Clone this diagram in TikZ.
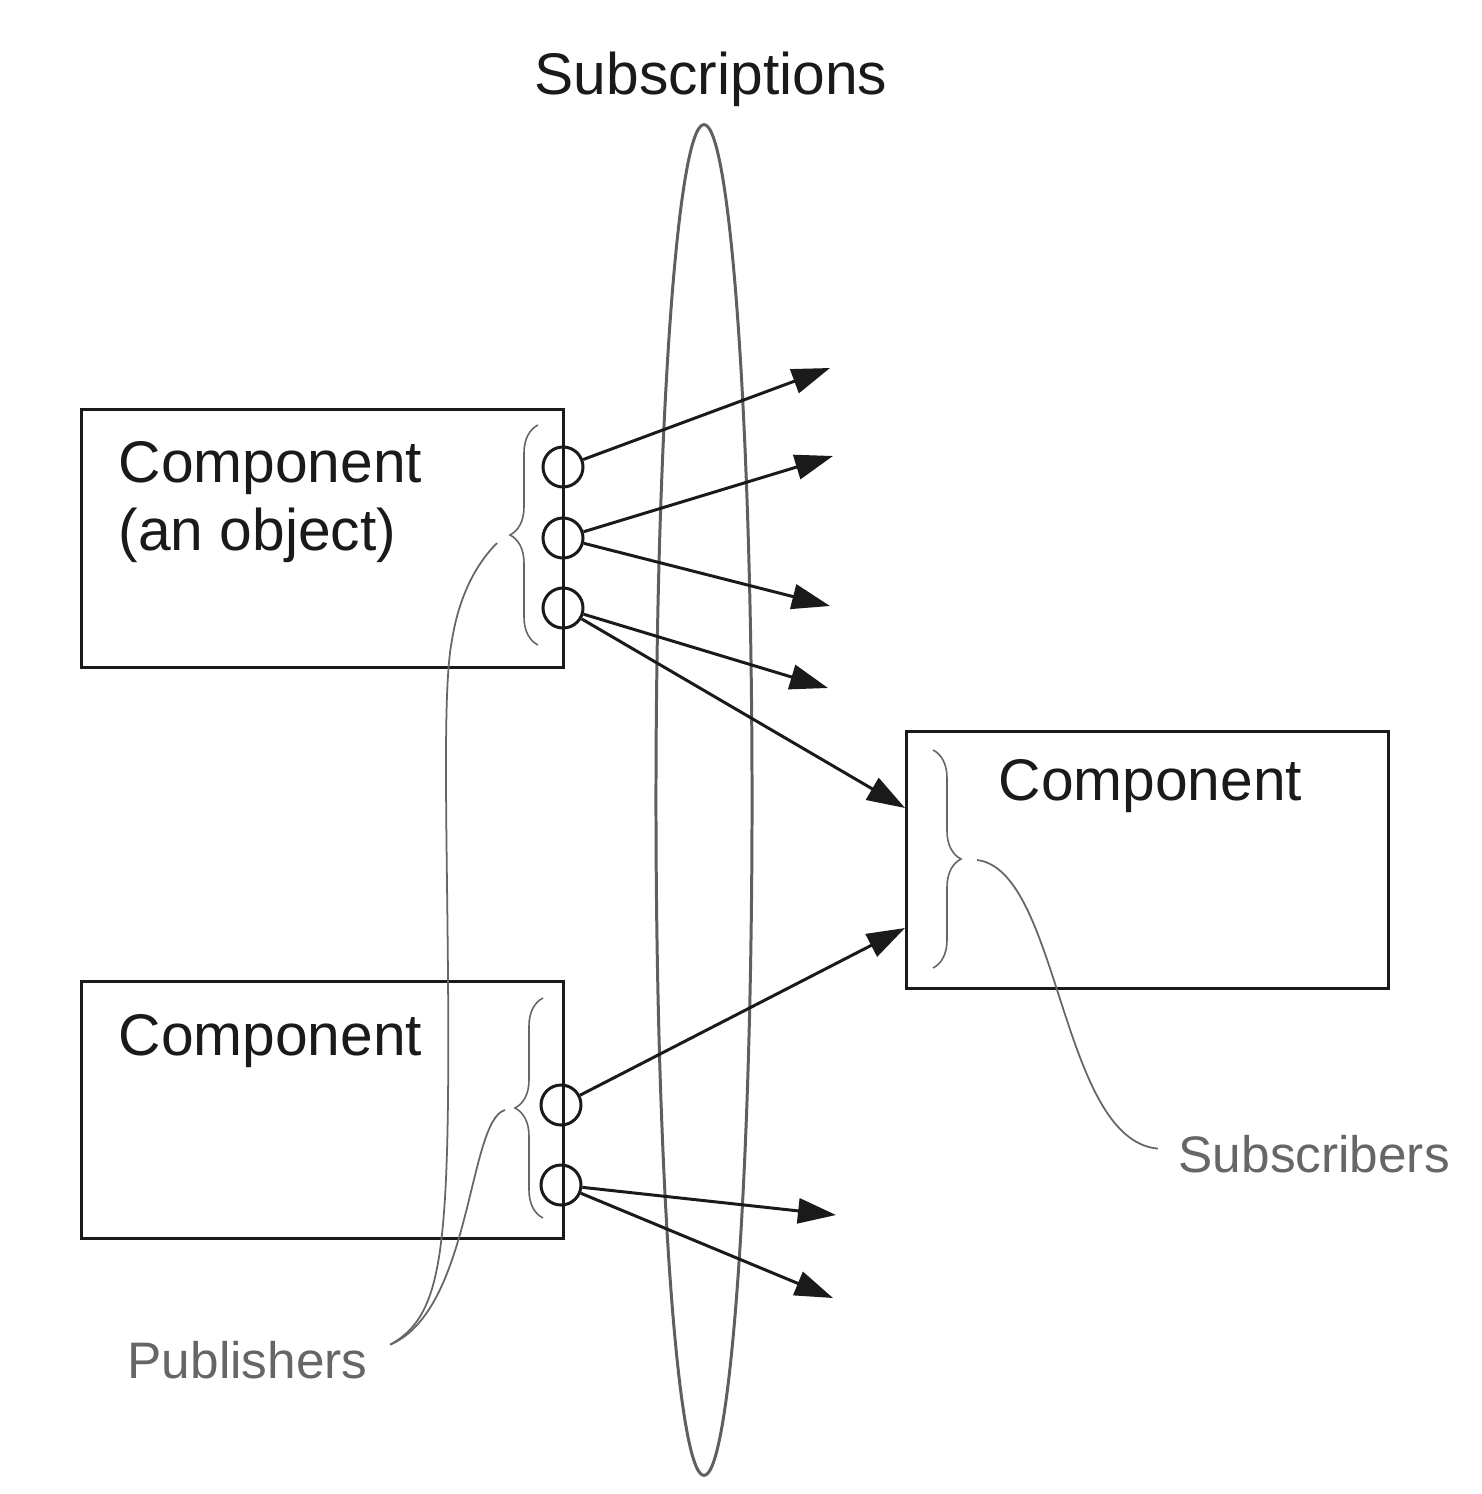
\documentclass[tikz,border=0pt]{standalone}
\usepackage{fontspec}
\setmainfont{Liberation Sans}
\usetikzlibrary{arrows.meta, decorations.pathreplacing}

\definecolor{ink}{RGB}{26,26,26}
\definecolor{note}{RGB}{102,102,102}
\definecolor{ringgray}{RGB}{95,95,95}

\tikzset{
	comp/.style={draw=ink, line width=0.85pt, minimum width=4.81cm, minimum height=2.57cm, inner sep=0},
	port/.style={draw=ink, line width=0.85pt, circle, minimum size=0.4cm, inner sep=0},
	arr/.style={ink, line width=0.85pt, -{Triangle[length=0.38cm, width=0.25cm]}},
	bigtext/.style={font=\fontsize{16.7}{20}\selectfont, text=ink, inner sep=0},
	notetext/.style={font=\fontsize{14.6}{18}\selectfont, text=note, inner sep=0},
	curly/.style={note, line width=0.45pt, decorate, decoration={brace, amplitude=0.28cm}},
	lead/.style={note, line width=0.5pt}
}

\begin{document}
\begin{tikzpicture}[x=0.01cm, y=-0.01cm]
		\useasboundingbox (0,0) rectangle (1482,1494);

		\node[bigtext, anchor=base] (subs) at (711,95) {Subscriptions};
		\draw[ringgray, line width=0.85pt] (704,800) ellipse [x radius=0.48cm, y radius=6.75cm];

		\node[comp] (compA) at (322.5,538.5) {};
		\node[comp] (compB) at (322.5,1110) {};
		\node[comp] (compC) at (1147.5,860) {};
		\node[bigtext, anchor=base west] (compAname) at (118,482) {Component};
		\node[bigtext, anchor=base west] (compAobj) at (118,550) {(an object)};
		\node[bigtext, anchor=base west] (compBname) at (118,1055) {Component};
		\node[bigtext, anchor=base west] (compCname) at (998,800) {Component};

		\node[port] (pa1) at (563,467) {};
		\node[port] (pa2) at (563,538) {};
		\node[port] (pa3) at (563,608) {};
		\node[port] (pb1) at (561,1105) {};
		\node[port] (pb2) at (561,1185) {};

		\coordinate (ta1) at (830,368);
		\coordinate (ta2) at (833,456);
		\coordinate (ta3) at (830,606);
		\coordinate (ta4) at (828,688);
		\coordinate (inC1) at (905,808);
		\coordinate (inC2) at (905,928);
		\coordinate (tb1) at (836,1215);
		\coordinate (tb2) at (833,1298);

		\draw[arr] (pa1) -- (ta1);
		\draw[arr] (pa2) -- (ta2);
		\draw[arr] (pa2) -- (ta3);
		\draw[arr] (pa3) -- (ta4);
		\draw[arr] (pa3) -- (inC1);
		\draw[arr] (pb1) -- (inC2);
		\draw[arr] (pb2) -- (tb1);
		\draw[arr] (pb2) -- (tb2);

		\draw[curly] (538,645) -- (538,425);
		\draw[curly] (543,1218) -- (543,998);
		\draw[curly] (933,750) -- (933,968);

		\coordinate (tipA) at (497,543);
		\coordinate (tipB) at (505,1110);
		\coordinate (tipC) at (977,860);

		\node[notetext, anchor=base west] (pubs) at (127,1378) {Publishers};
		\node[notetext, anchor=base west] (subr) at (1178,1172) {Subscribers};

		\draw[lead] (pubs.east) ++(22,-15) coordinate (pubsend) .. controls (435,1320) and (446,1270) .. (448,1100)
			.. controls (450,900) and (440,700) .. (452,640) .. controls (460,590) and (480,560) .. (tipA);
		\draw[lead] (pubsend) .. controls (472,1310) and (468,1120) .. (tipB);
		\draw[lead] (tipC) .. controls (1060,870) and (1060,1140) .. ([xshift=-0.2cm, yshift=0.05cm]subr.west);
	\end{tikzpicture}
\end{document}
